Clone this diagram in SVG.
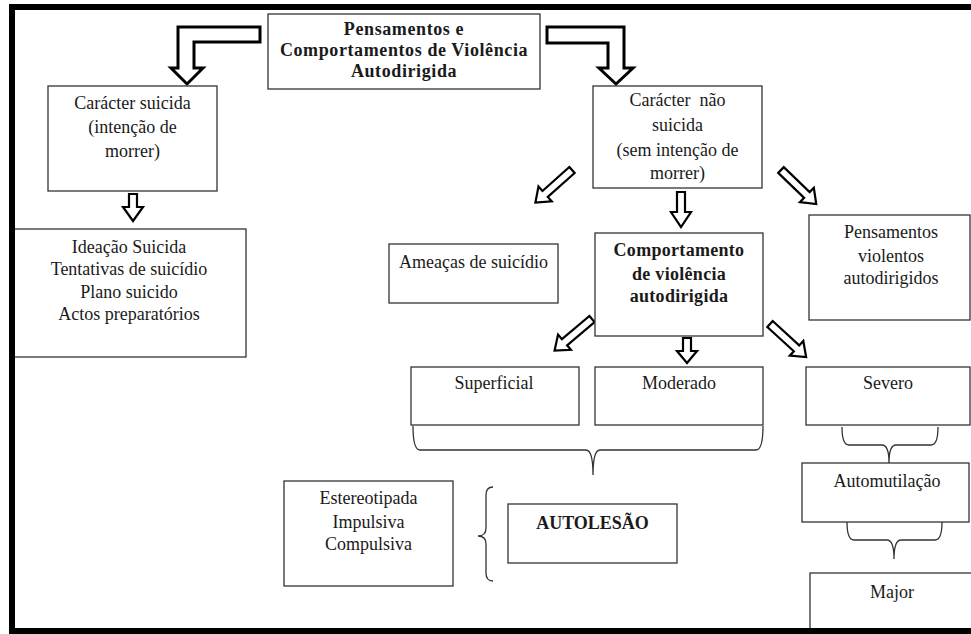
<svg xmlns="http://www.w3.org/2000/svg" width="971" height="634" viewBox="0 0 971 634">
<style>
.box{fill:#fff;stroke:#333;stroke-width:1.3}
.t{font-family:"Liberation Serif","Times New Roman",serif;font-size:18px;fill:#1a1a1a;text-anchor:middle}
.b{font-weight:bold}
.arr{fill:#fff;stroke:#000;stroke-width:2.2;stroke-linejoin:miter}
.big{fill:#fff;stroke:#000;stroke-width:3;stroke-linejoin:miter}
.br{fill:none;stroke:#333;stroke-width:1.3}
</style>
<defs>
<path id="diag" d="M-4,0 L4,0 L4,36 L10,36 L0,49 L-10,36 L-4,36 Z"/>
</defs>
<rect width="971" height="634" fill="#fff"/>
<g id="connectors">
<path class="big" d="M260,27 L178,27 L178,68 L171,68 L187,84 L203,68 L194,68 L194,42 L260,42 Z"/>
<path class="big" d="M547,27 L624,27 L624,68 L633,68 L616,84 L599,68 L608,68 L608,43 L547,43 Z"/>
<path class="arr" d="M129,194 L137,194 L137,207 L143,207 L133,221 L123,207 L129,207 Z"/>
<path class="arr" d="M677,192 L685,192 L685,212 L691,212 L681,227 L671,212 L677,212 Z"/>
<path class="arr" d="M683,338 L691,338 L691,351 L697,351 L687,363 L677,351 L683,351 Z"/>
<use href="#diag" class="arr" transform="translate(572,170) rotate(48.3)"/>
<use href="#diag" class="arr" transform="translate(781,170) rotate(-46)"/>
<use href="#diag" class="arr" transform="translate(592,319) rotate(49.8)"/>
<use href="#diag" class="arr" transform="translate(770,324) rotate(-47.5)"/>
<path class="br" d="M413,426 Q413,450 420,450 L586,450 Q593,450 593,475 Q593,450 600,450 L756,450 Q763,450 763,426"/>
<path class="br" d="M842,427 Q842,445 849,445 L882,445 Q889,445 889,463 Q889,445 896,445 L931,445 Q938,445 938,427"/>
<path class="br" d="M847,522 Q847,540 854,540 L887,540 Q894,540 894,559 Q894,540 901,540 L935,540 Q942,540 942,522"/>
<path class="br" d="M493,487 Q486,487 486,495 L486,528 Q486,536 478,536 Q486,536 486,544 L486,573 Q486,581 493,581"/>
</g>
<g id="n-root">
<rect class="box" x="268" y="14" width="272" height="75"/>
<text class="t b" font-size="19" letter-spacing="0.6"><tspan x="404" y="35">Pensamentos e</tspan><tspan x="404" y="56">Comportamentos de Violência</tspan><tspan x="404" y="77">Autodirigida</tspan></text>
</g>
<g id="n-suicida">
<rect class="box" x="48" y="86" width="169" height="105"/>
<text class="t"><tspan x="132.5" y="109">Carácter suicida</tspan><tspan x="132.5" y="133">(intenção de</tspan><tspan x="132.5" y="157">morrer)</tspan></text>
</g>
<g id="n-lista">
<rect class="box" x="14" y="229" width="232" height="128"/>
<text class="t"><tspan x="129" y="253">Ideação Suicida</tspan><tspan x="129" y="275">Tentativas de suicídio</tspan><tspan x="129" y="298">Plano suicido</tspan><tspan x="129" y="320">Actos preparatórios</tspan></text>
</g>
<g id="n-naosuicida">
<rect class="box" x="593" y="86" width="169" height="102"/>
<text class="t" style="white-space:pre"><tspan x="677.5" y="106">Carácter  não</tspan><tspan x="677.5" y="131">suicida</tspan><tspan x="677.5" y="156">(sem intenção de</tspan><tspan x="677.5" y="179">morrer)</tspan></text>
</g>
<g id="n-ameacas">
<rect class="box" x="389" y="244" width="169" height="59"/>
<text class="t" x="473.5" y="268">Ameaças de suicídio</text>
</g>
<g id="n-comportamento">
<rect class="box" x="595" y="233" width="168" height="103"/>
<text class="t b" letter-spacing="0.3"><tspan x="679" y="256">Comportamento</tspan><tspan x="679" y="280">de violência</tspan><tspan x="679" y="302">autodirigida</tspan></text>
</g>
<g id="n-pensamentos">
<rect class="box" x="809" y="215" width="161" height="105"/>
<text class="t"><tspan x="891" y="238">Pensamentos</tspan><tspan x="891" y="262">violentos</tspan><tspan x="891" y="284">autodirigidos</tspan></text>
</g>
<g id="n-superficial">
<rect class="box" x="411" y="367" width="168" height="58"/>
<text class="t" x="494" y="389">Superficial</text>
</g>
<g id="n-moderado">
<rect class="box" x="595" y="367" width="168" height="58"/>
<text class="t" x="679" y="389">Moderado</text>
</g>
<g id="n-severo">
<rect class="box" x="806" y="367" width="164" height="58"/>
<text class="t" x="888" y="389">Severo</text>
</g>
<g id="n-automutilacao">
<rect class="box" x="802" y="463" width="167" height="59"/>
<text class="t" x="887" y="487">Automutilação</text>
</g>
<g id="n-major">
<rect class="box" x="810" y="573" width="170" height="60"/>
<text class="t" x="892" y="598">Major</text>
</g>
<g id="n-tipos">
<rect class="box" x="284" y="481" width="169" height="105"/>
<text class="t"><tspan x="368.5" y="504">Estereotipada</tspan><tspan x="368.5" y="528">Impulsiva</tspan><tspan x="368.5" y="550">Compulsiva</tspan></text>
</g>
<g id="n-autolesao">
<rect class="box" x="508" y="504" width="169" height="59"/>
<text class="t b" x="592.5" y="529">AUTOLESÃO</text>
</g>
<g id="frame" fill="#000">
<rect x="9" y="4" width="962" height="6"/>
<rect x="9" y="4" width="6" height="630"/>
<rect x="9" y="628" width="962" height="6"/>
</g>
</svg>
